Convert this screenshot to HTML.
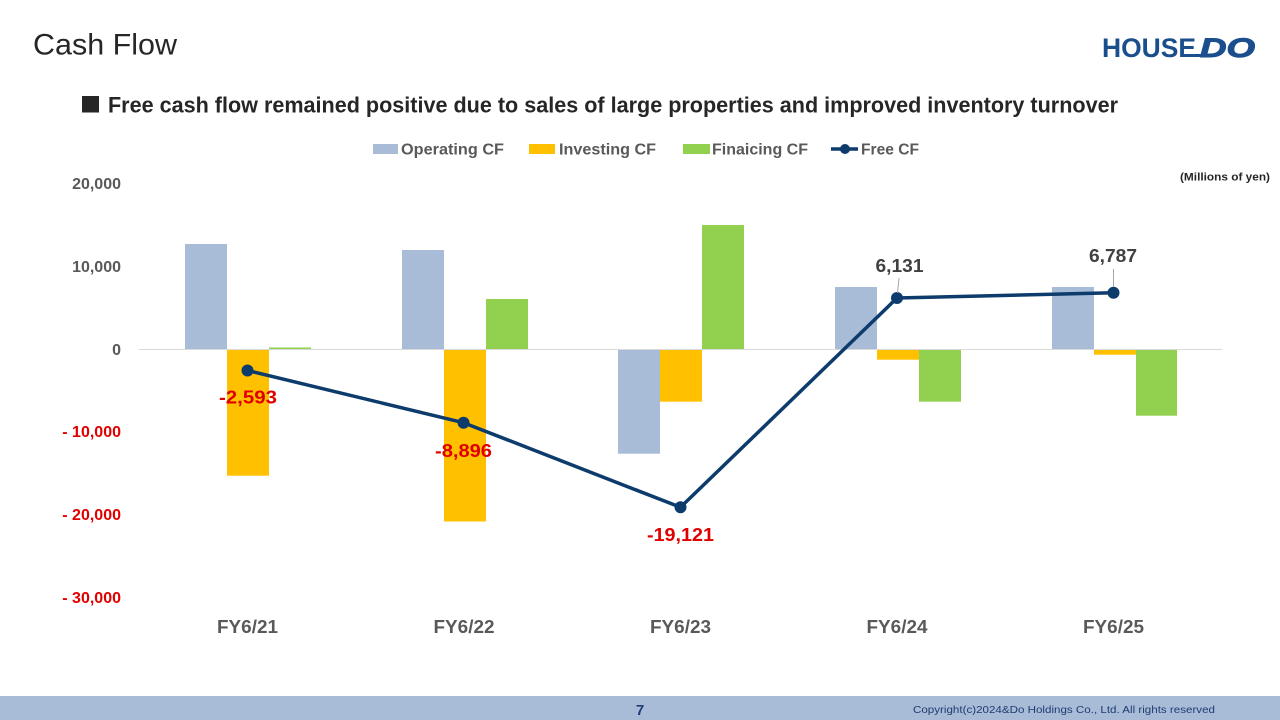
<!DOCTYPE html>
<html>
<head>
<meta charset="utf-8">
<style>
  html, body { margin:0; padding:0; background:#fff; }
  body { width:1280px; height:720px; overflow:hidden; }
  svg { display:block; }
  text { font-family: "Liberation Sans", "Noto Sans CJK JP", sans-serif; }
</style>
</head>
<body>
<svg width="1280" height="720" viewBox="0 0 1280 720" xmlns="http://www.w3.org/2000/svg">
  <rect x="0" y="0" width="1280" height="720" fill="#ffffff"/>

  <!-- Title -->
  <text x="33" y="54.5" font-size="30" fill="#262626" textLength="144" lengthAdjust="spacingAndGlyphs">Cash Flow</text>

  <!-- Logo -->
  <text x="1102" y="57" font-size="27" font-weight="bold" fill="#1a4e8c" textLength="94" lengthAdjust="spacingAndGlyphs">HOUSE</text>
  <rect x="1186" y="54" width="18" height="3" fill="#1a4e8c"/>
  <text x="1200" y="57" font-size="27" font-weight="bold" font-style="italic" fill="#1a4e8c" stroke="#1a4e8c" stroke-width="1" textLength="55" lengthAdjust="spacingAndGlyphs">DO</text>

  <!-- Subtitle -->
  <rect x="82" y="96" width="17" height="16.5" fill="#262626"/>
  <text x="108" y="112.5" font-size="22" font-weight="bold" fill="#262626" textLength="1010" lengthAdjust="spacingAndGlyphs">Free cash flow remained positive due to sales of large properties and improved inventory turnover</text>

  <!-- Legend -->
  <rect x="373" y="144" width="25" height="10" fill="#a8bcd8"/>
  <text x="401" y="154.5" font-size="16" font-weight="bold" fill="#595959" textLength="103" lengthAdjust="spacingAndGlyphs">Operating CF</text>
  <rect x="529" y="144" width="26" height="10" fill="#ffc000"/>
  <text x="559" y="154.5" font-size="16" font-weight="bold" fill="#595959" textLength="97" lengthAdjust="spacingAndGlyphs">Investing CF</text>
  <rect x="683" y="144" width="27" height="10" fill="#92d050"/>
  <text x="712" y="154.5" font-size="16" font-weight="bold" fill="#595959" textLength="96" lengthAdjust="spacingAndGlyphs">Finaicing CF</text>
  <line x1="831" y1="149" x2="858" y2="149" stroke="#0d3b6c" stroke-width="3.5"/>
  <circle cx="845" cy="149" r="5" fill="#0d3b6c"/>
  <text x="861" y="154.5" font-size="16" font-weight="bold" fill="#595959" textLength="58" lengthAdjust="spacingAndGlyphs">Free CF</text>

  <!-- Units -->
  <text x="1270" y="180.5" font-size="11" font-weight="bold" fill="#262626" text-anchor="end" textLength="90" lengthAdjust="spacingAndGlyphs">(Millions of yen)</text>

  <!-- Y axis labels -->
  <g font-size="16" font-weight="bold" text-anchor="end">
    <text x="121" y="189" fill="#595959">20,000</text>
    <text x="121" y="272" fill="#595959">10,000</text>
    <text x="121" y="355" fill="#595959">0</text>
    <text x="121" y="437" fill="#e00000">- 10,000</text>
    <text x="121" y="520" fill="#e00000">- 20,000</text>
    <text x="121" y="603" fill="#e00000">- 30,000</text>
  </g>

  <!-- Bars -->
  <rect x="185" y="244" width="42" height="105" fill="#a8bcd8"/>
  <rect x="227" y="349" width="42" height="126.7" fill="#ffc000"/>
  <rect x="269" y="347.5" width="42" height="1.5" fill="#92d050"/>

  <rect x="402" y="250" width="42" height="99" fill="#a8bcd8"/>
  <rect x="444" y="349" width="42" height="172.5" fill="#ffc000"/>
  <rect x="486" y="299" width="42" height="50" fill="#92d050"/>

  <rect x="618" y="349" width="42" height="104.7" fill="#a8bcd8"/>
  <rect x="660" y="349" width="42" height="52.7" fill="#ffc000"/>
  <rect x="702" y="225" width="42" height="124" fill="#92d050"/>

  <rect x="835" y="287" width="42" height="62" fill="#a8bcd8"/>
  <rect x="877" y="349" width="42" height="10.7" fill="#ffc000"/>
  <rect x="919" y="349" width="42" height="52.7" fill="#92d050"/>

  <rect x="1052" y="287" width="42" height="62" fill="#a8bcd8"/>
  <rect x="1094" y="349" width="42" height="5.7" fill="#ffc000"/>
  <rect x="1136" y="349" width="41" height="66.7" fill="#92d050"/>

  <!-- Zero line -->
  <line x1="139" y1="349.5" x2="1222" y2="349.5" stroke="#d9d9d9" stroke-width="1"/>

  <!-- Free CF line -->
  <polyline points="247.5,370.5 463.5,422.7 680.5,507.3 897,298 1113.5,292.8" fill="none" stroke="#0d3b6c" stroke-width="3.5" stroke-linejoin="round"/>
  <g fill="#0d3b6c">
    <circle cx="247.5" cy="370.5" r="6"/>
    <circle cx="463.5" cy="422.7" r="6"/>
    <circle cx="680.5" cy="507.3" r="6"/>
    <circle cx="897" cy="298" r="6"/>
    <circle cx="1113.5" cy="292.8" r="6"/>
  </g>

  <!-- leader lines -->
  <line x1="899" y1="278" x2="897.5" y2="293" stroke="#a6a6a6" stroke-width="1"/>
  <line x1="1113.5" y1="269" x2="1113.5" y2="287" stroke="#a6a6a6" stroke-width="1"/>

  <!-- Data labels -->
  <g font-size="18" font-weight="bold" text-anchor="middle">
    <text x="248" y="403.5" fill="#e00000" textLength="58" lengthAdjust="spacingAndGlyphs">-2,593</text>
    <text x="463.5" y="457" fill="#e00000" textLength="57" lengthAdjust="spacingAndGlyphs">-8,896</text>
    <text x="680.5" y="541" fill="#e00000" textLength="67" lengthAdjust="spacingAndGlyphs">-19,121</text>
    <text x="899.5" y="272" fill="#404040" textLength="48" lengthAdjust="spacingAndGlyphs">6,131</text>
    <text x="1113" y="262" fill="#404040" textLength="48" lengthAdjust="spacingAndGlyphs">6,787</text>
  </g>

  <!-- X labels -->
  <g font-size="18" font-weight="bold" fill="#595959" text-anchor="middle">
    <text x="247.5" y="633" textLength="61" lengthAdjust="spacingAndGlyphs">FY6/21</text>
    <text x="464" y="633" textLength="61" lengthAdjust="spacingAndGlyphs">FY6/22</text>
    <text x="680.5" y="633" textLength="61" lengthAdjust="spacingAndGlyphs">FY6/23</text>
    <text x="897" y="633" textLength="61" lengthAdjust="spacingAndGlyphs">FY6/24</text>
    <text x="1113.5" y="633" textLength="61" lengthAdjust="spacingAndGlyphs">FY6/25</text>
  </g>

  <!-- Footer -->
  <rect x="0" y="696" width="1280" height="24" fill="#a8bcd8"/>
  <text x="640" y="715" font-size="15" font-weight="bold" fill="#1f3b70" text-anchor="middle">7</text>
  <text x="913" y="713" font-size="10" fill="#1f3b70" textLength="302" lengthAdjust="spacingAndGlyphs">Copyright(c)2024&amp;Do Holdings Co., Ltd. All rights reserved</text>
</svg>
</body>
</html>
